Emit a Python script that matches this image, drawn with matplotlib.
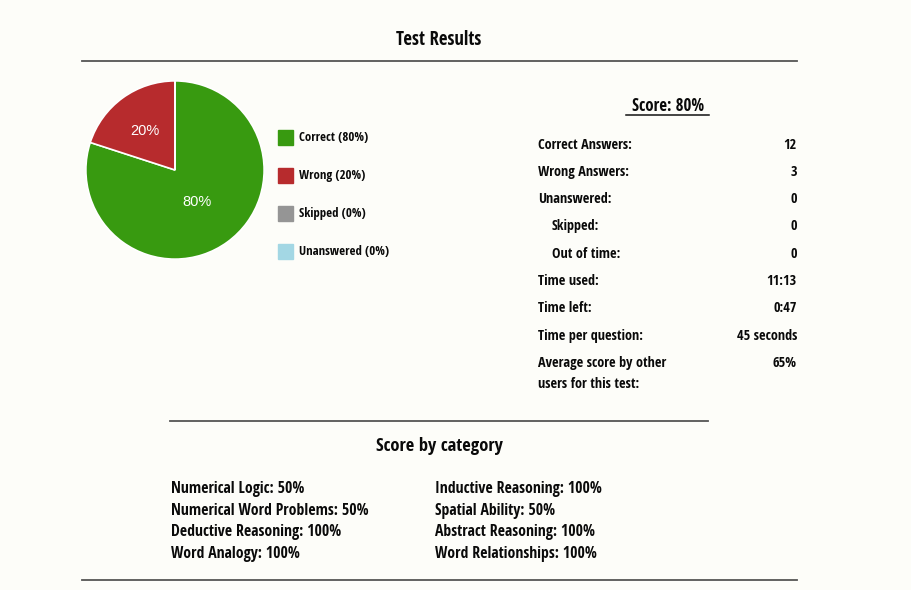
import matplotlib
matplotlib.use("Agg")
import numpy as np
import matplotlib.pyplot as plt

plt.rcParams['font.family'] = ['Open Sans Condensed', 'DejaVu Sans']

# data
slice_labels = ['Correct', 'Wrong', 'Skipped', 'Unanswered']
slice_values = [80, 20, 0, 0]
slice_colors = ['#389a10', '#b72b2d', '#959595', '#a3d7e4']

score = 80
stat_labels = ['Correct Answers:', 'Wrong Answers:', 'Unanswered:', 'Skipped:', 'Out of time:',
               'Time used:', 'Time left:', 'Time per question:', 'Average score by other\nusers for this test:']
stat_values = ['12', '3', '0', '0', '0', '11:13', '0:47', '45 seconds', '65%']
stat_indent = [0, 0, 0, 1, 1, 0, 0, 0, 0]

cat_names = ['Numerical Logic', 'Numerical Word Problems', 'Deductive Reasoning', 'Word Analogy',
             'Inductive Reasoning', 'Spatial Ability', 'Abstract Reasoning', 'Word Relationships']
cat_scores = [50, 50, 100, 100, 100, 50, 100, 100]

W, H = 912, 590
bg = '#fdfdf9'
fig = plt.figure(figsize=(W / 100, H / 100), dpi=100, facecolor=bg)
ax = fig.add_axes([0, 0, 1, 1])
ax.set_xlim(0, W)
ax.set_ylim(H, 0)
ax.axis('off')

txt = dict(fontweight='bold', color='#0a0a0a')

ax.text(439, 40, 'Test Results', ha='center', va='center', fontsize=13.4, **txt)
ax.plot([82, 797], [61, 61], color='#555555', lw=1.3)

# pie
pax = fig.add_axes([85 / W, (H - 260) / H, 180 / W, 180 / H])
wedges, _ = pax.pie(slice_values, colors=slice_colors, startangle=90, counterclock=False,
                    wedgeprops=dict(edgecolor='white', linewidth=1.2))
pax.set_aspect('equal')
pax.set_xlim(-1.01, 1.01)
pax.set_ylim(-1.01, 1.01)
dist = [0.42, 0.57]
for w, v, d in zip(wedges, slice_values, dist):
    if v == 0:
        continue
    a = np.deg2rad((w.theta1 + w.theta2) / 2)
    pax.text(d * np.cos(a), d * np.sin(a) - 0.02, f'{v}%', ha='center', va='center',
             color='white', fontsize=10.5, family='Liberation Sans')

# legend
for i, (lab, v, c) in enumerate(zip(slice_labels, slice_values, slice_colors)):
    y = 137.5 + i * 38
    ax.add_patch(plt.Rectangle((278, y - 7.5), 15, 15, color=c))
    ax.text(299, y, f'{lab} ({v}%)', ha='left', va='center', fontsize=9.2, **txt)

# score block
ax.text(668, 106, f' Score: {score}% ', ha='center', va='center', fontsize=12.2, **txt)
ax.plot([626, 709], [115, 115], color='#111111', lw=1.1)

ys = [145, 172, 199, 226, 254, 281, 308, 336, 363]
for lab, val, ind, y in zip(stat_labels, stat_values, stat_indent, ys):
    for j, line in enumerate(lab.split('\n')):
        ax.text(538 + 14 * ind, y + 21.5 * j, line, ha='left', va='center', fontsize=10.3, **txt)
    ax.text(797, y, val, ha='right', va='center', fontsize=10.3, **txt)

ax.plot([170, 708], [421, 421], color='#555555', lw=1.3)
ax.text(439, 446, 'Score by category', ha='center', va='center', fontsize=13.3, **txt)

for i, (n, s) in enumerate(zip(cat_names, cat_scores)):
    col, row = divmod(i, 4)
    x = 171 if col == 0 else 435
    ax.text(x, 489 + row * 21.7, f'{n}: {s}%', ha='left', va='center', fontsize=11.3, **txt)

ax.plot([82, 797], [580, 580], color='#555555', lw=1.3)

fig.savefig('out.png', dpi=100, facecolor=bg)
